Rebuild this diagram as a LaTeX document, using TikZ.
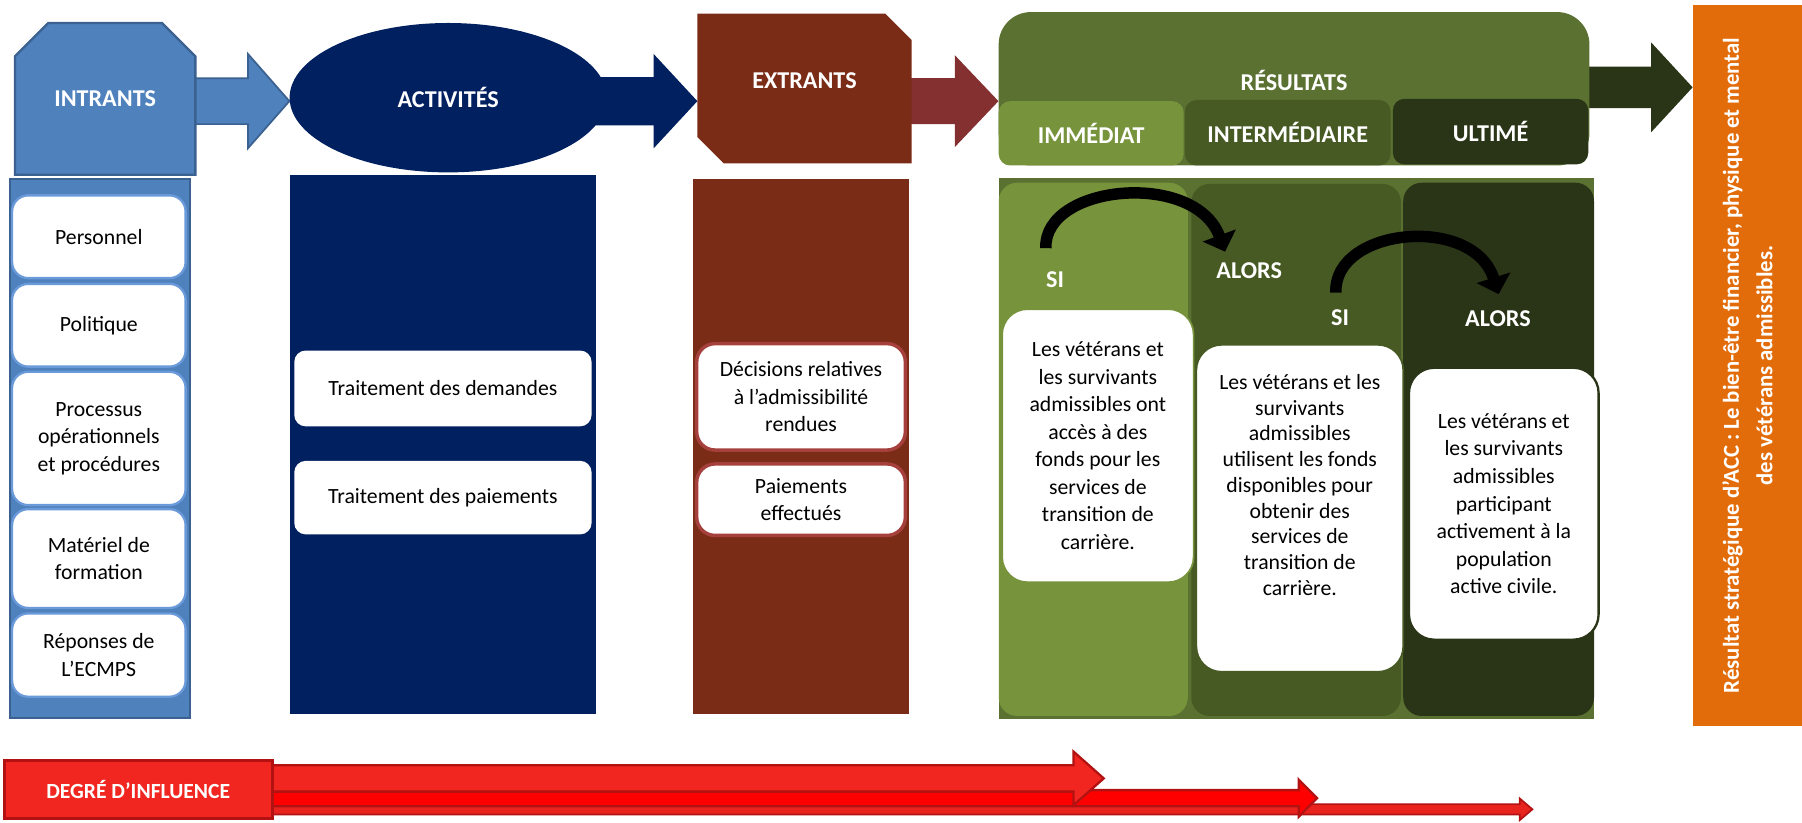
\documentclass[tikz,border=0pt]{standalone}
\usepackage{fontspec}
\setmainfont{Carlito}
\usetikzlibrary{shapes.geometric,shapes.misc,arrows.meta,calc,backgrounds}

\definecolor{inblue}{HTML}{4F81BD}
\definecolor{inedge}{HTML}{3A6190}
\definecolor{inglow}{HTML}{6A9AD9}
\definecolor{navy}{HTML}{002060}
\definecolor{brick}{HTML}{7B2C17}
\definecolor{brickedge}{HTML}{A5403D}
\definecolor{maroon}{HTML}{843031}
\definecolor{olive}{HTML}{5B7132}
\definecolor{lightolive}{HTML}{77933C}
\definecolor{midolive}{HTML}{475A24}
\definecolor{darkolive}{HTML}{2A3517}
\definecolor{stratorange}{HTML}{E36C0A}
\definecolor{infl}{HTML}{F22620}
\definecolor{inflbright}{HTML}{FF0000}
\definecolor{infllow}{HTML}{E8231E}
\definecolor{infledge}{HTML}{B31212}

% block arrow: style, from, to, half shaft, half head, head length
\newcommand\blockarrow[6]{%
  \path[#1] ($(#2)+(0,#4)$) -- ($(#3)+(-#6,#4)$) -- ($(#3)+(-#6,#5)$) -- (#3)
    -- ($(#3)+(-#6,-#5)$) -- ($(#3)+(-#6,-#4)$) -- ($(#2)+(0,-#4)$) -- cycle;}

\begin{document}
\begin{tikzpicture}[x=1pt, y=-1pt,
    hdr/.style={text=white, font=\bfseries\fontsize{21}{25}\selectfont},
    txt/.style={font=\fontsize{18.9}{24}\selectfont, align=center},
    tab/.style={hdr, rounded corners=10pt, inner sep=0pt},
    incard/.style={txt, fill=white, draw=inglow, line width=2pt, rounded corners=14pt, minimum width=151pt, inner sep=0pt},
    actcard/.style={txt, fill=white, rounded corners=10pt, minimum width=258.7pt, inner sep=0pt},
    excard/.style={txt, fill=white, draw=brickedge, line width=3pt, rounded corners=16pt, minimum width=181.6pt, inner sep=0pt},
    rescard/.style={txt, fill=white, line width=1.5pt, rounded corners=22pt, inner sep=0pt},
    curl/.style={line width=10pt, -{Triangle[width=30pt,length=15pt]}}]
  \useasboundingbox (0,0) rectangle (1568,716);
  \begin{scope}[on background layer]
    \fill[white] (0,0) rectangle (1568,716);
  \end{scope}

  % top row
  \node[chamfered rectangle, chamfered rectangle corners={north west,north east},
    chamfered rectangle xsep=22pt, chamfered rectangle ysep=22pt,
    fill=inblue, draw=inedge, line width=2pt, minimum width=157pt, minimum height=132pt,
    inner sep=0pt, hdr] (intrants) at (91.5,86) {INTRANTS};
  \node[ellipse, fill=navy, minimum width=276pt, minimum height=130pt, inner sep=0pt, hdr]
    (activites) at (390,85) {ACTIVITÉS};
  \node[minimum width=186pt, minimum height=130pt, inner sep=0pt] (extrants) at (700,77) {};
  \fill[brick] (extrants.north west) -- ($(extrants.north east)+(-23,0)$) -- ($(extrants.north east)+(0,23)$)
    -- (extrants.south east) -- ($(extrants.south west)+(23,0)$) -- ($(extrants.south west)+(0,-23)$) -- cycle;
  \node[hdr] (extrantslbl) at (700,70) {EXTRANTS};
  \node[fill=olive, rounded corners=28pt, minimum width=514pt, minimum height=133.5pt, inner sep=0pt]
    (resultats) at (1126,77.25) {};
  \node[hdr] (resultatslbl) at (1126,70) {RÉSULTATS};
  \node[tab, fill=lightolive, minimum width=161pt, minimum height=56pt] (immediat) at (949.5,116) {IMMÉDIAT};
  \node[tab, fill=midolive, minimum width=179pt, minimum height=57pt] (intermediaire) at (1120.5,115.5) {INTERMÉDIAIRE};
  \node[tab, fill=darkolive, minimum width=170pt, minimum height=57pt] (ultime) at (1297,114.5) {ULTIMÉ};
  \node[fill=stratorange, minimum width=95pt, minimum height=628pt, inner sep=0pt] (strategique) at (1520.5,318) {};
  \node[rotate=90, text=white, font=\bfseries\fontsize{19.8}{29}\selectfont, align=center] (strategiquelbl)
    at (strategique.center) {Résultat stratégique d’ACC : Le bien-être financier, physique et mental\\
    des vétérans admissibles.};

  \coordinate (blue0) at (intrants.center |- 0,88);
  \coordinate (blue1) at (activites.west |- 0,88);
  \coordinate (navy0) at (activites.center |- 0,88);
  \coordinate (navy1) at (extrants.west |- 0,88);
  \coordinate (maroon0) at (extrants.center |- 0,88);
  \coordinate (maroon1) at (resultats.west |- 0,88);
  \coordinate (dark0) at (resultats.center |- 0,76);
  \coordinate (dark1) at (strategique.west |- 0,76);
  \begin{scope}[on background layer]
    \blockarrow{fill=inblue, draw=inedge, line width=1.5pt}{blue0}{blue1}{20}{41}{36}
    \blockarrow{fill=navy}{navy0}{navy1}{21}{41}{38}
    \blockarrow{fill=maroon}{maroon0}{maroon1}{20}{40}{38}
    \blockarrow{fill=darkolive}{dark0}{dark1}{18}{39}{36}
  \end{scope}

  % intrants
  \node[fill=inblue, draw=inedge, line width=2pt, minimum width=157pt, minimum height=469pt, inner sep=0pt]
    (intrantscol) at (87,390.5) {};
  \node[incard, minimum height=72pt] (personnel) at (86,206) {Personnel};
  \node[incard, minimum height=72pt] (politique) at (86,283) {Politique};
  \node[incard, minimum height=116pt] (processus) at (86,381.5) {Processus\\opérationnels\\et procédures};
  \node[incard, minimum height=86pt] (materiel) at (86,486) {Matériel de\\formation};
  \node[incard, minimum height=72.5pt] (reponses) at (86,570) {Réponses de\\L’ECMPS};

  % activites
  \node[fill=navy, minimum width=267pt, minimum height=469pt, inner sep=0pt] (activitescol) at (385.5,387) {};
  \node[actcard, minimum height=66pt] (demandes) at (385.4,338) {Traitement des demandes};
  \node[actcard, minimum height=64pt] (paiements) at (385.4,433) {Traitement des paiements};

  % extrants
  \node[fill=brick, minimum width=188pt, minimum height=465pt, inner sep=0pt] (extrantscol) at (697,388.5) {};
  \node[excard, minimum height=92.6pt] (decisions) at (697,345.3) {Décisions relatives\\à l’admissibilité\\rendues};
  \node[excard, minimum height=62.2pt] (effectues) at (697,434.8) {Paiements\\effectués};

  % resultats
  \node[fill=olive, minimum width=518pt, minimum height=471pt, inner sep=0pt] (resultatscol) at (1128,390.3) {};
  \node[fill=lightolive, rounded corners=16pt, minimum width=164.5pt, minimum height=464pt, inner sep=0pt]
    (immcol) at (951.3,391) {};
  \node[fill=midolive, rounded corners=16pt, minimum width=182.4pt, minimum height=463pt, inner sep=0pt]
    (intcol) at (1127.8,391.5) {};
  \node[fill=darkolive, rounded corners=16pt, minimum width=166pt, minimum height=464pt, inner sep=0pt]
    (ultcol) at (1304,391) {};
  \node[rescard, draw=lightolive, minimum width=166.6pt, minimum height=237.6pt] (acces) at (955.3,387.8)
    {Les vétérans et\\les survivants\\admissibles ont\\accès à des\\fonds pour les\\services de\\transition de\\carrière.};
  \node[rescard, draw=midolive, minimum width=180pt, minimum height=284.5pt] (utilisent) at (1131,442.3) {};
  \node[txt, font=\fontsize{18.9}{22.4}\selectfont] (utilisentlbl) at (1131,422)
    {Les vétérans et les\\survivants\\admissibles\\utilisent les fonds\\disponibles pour\\obtenir des\\services de\\transition de\\carrière.};
  \node[rescard, draw=darkolive, line width=2pt, minimum width=165pt, minimum height=236.6pt] (participent) at (1308.5,438.3)
    {Les vétérans et\\les survivants\\admissibles\\participant\\activement à la\\population\\active civile.};
  \node[hdr] (si1) at (918,243.7) {SI};
  \node[hdr] (alors1) at (1087,235.6) {ALORS};
  \node[hdr] (si2) at (1166,276) {SI};
  \node[hdr] (alors2) at (1303.4,277.6) {ALORS};
  \coordinate (arc1a) at (910,216);
  \coordinate (arc1b) at (1066,219);
  \coordinate (arc2a) at (1162.4,254.6);
  \coordinate (arc2b) at (1304,256);
  \draw[curl] (arc1a) .. controls (908,160) and (1040,148) .. (arc1b);
  \draw[curl] (arc2a) .. controls (1160,198) and (1282,186) .. (arc2b);

  % degre d'influence
  \node[fill=infl, draw=infledge, line width=2.5pt, minimum width=233pt, minimum height=50pt, inner sep=0pt,
    text=white, font=\bfseries\fontsize{18.8}{22}\selectfont] (degre) at (120.25,687) {DEGRÉ D’INFLUENCE};
  \coordinate (infl1) at (960.4,677.3);
  \coordinate (infl2) at (1146,694.5);
  \coordinate (infl3) at (1333.4,704.2);
  \coordinate (infl1s) at (degre.center |- infl1);
  \coordinate (infl2s) at (degre.center |- infl2);
  \coordinate (infl3s) at (degre.center |- infl3);
  \begin{scope}[on background layer]
    \blockarrow{fill=infllow, draw=infledge, line width=1.5pt}{infl3s}{infl3}{4.5}{9.4}{11}
    \blockarrow{fill=inflbright, draw=infledge, line width=2pt}{infl2s}{infl2}{7}{16.2}{16}
    \blockarrow{fill=infl, draw=infledge, line width=2pt}{infl1s}{infl1}{11.5}{23.4}{26.4}
  \end{scope}
\end{tikzpicture}
\end{document}
